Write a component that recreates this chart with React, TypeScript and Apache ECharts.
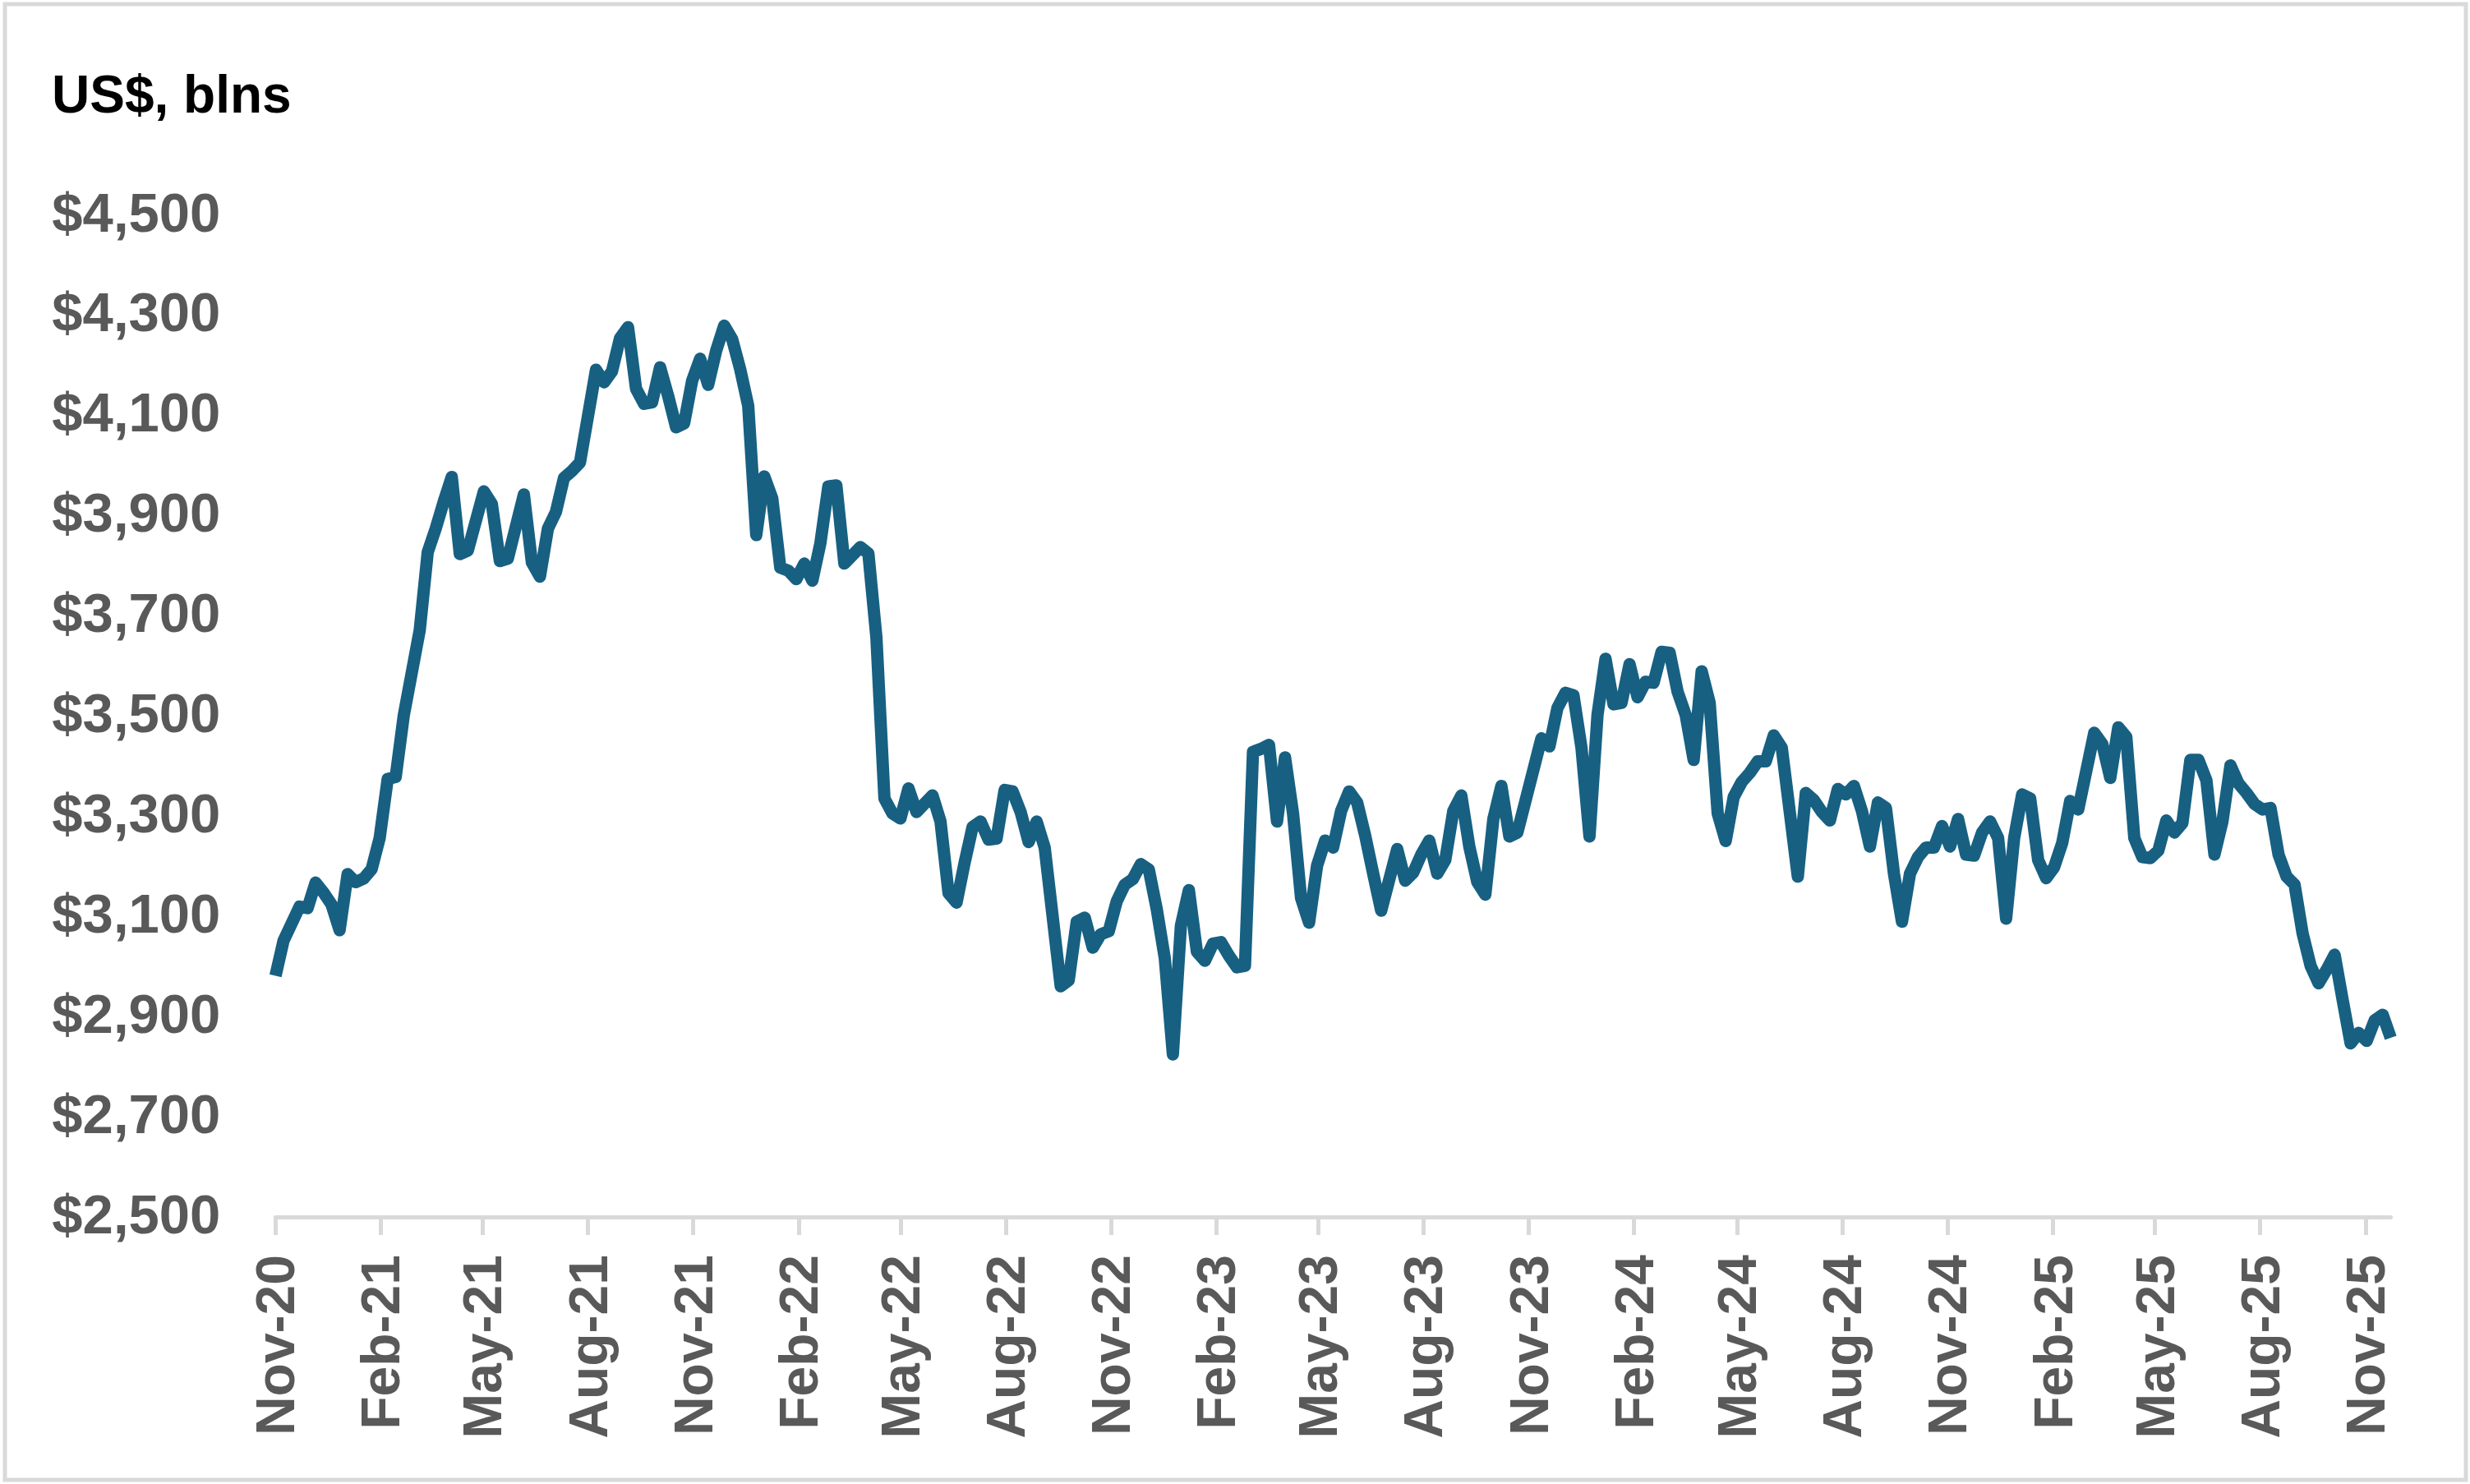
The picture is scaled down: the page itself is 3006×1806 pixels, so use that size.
import React, { useEffect, useRef } from "react";
import * as echarts from "echarts";

// Weekly observations (Wednesdays) starting 2020-11-04; index = weeks after start
const startDate = "2020-11-04";
const lastWeek = 264;

const weekIndex = [
  0, 1, 3, 4, 5, 6, 7, 8, 9, 10, 11, 12, 13, 14, 15, 16, 18, 19, 20, 21, 22, 23, 24, 26, 27, 28, 29, 31, 32, 33,
  34, 35, 36, 37, 38, 40, 41, 42, 43, 44, 45, 46, 47, 48, 49, 50, 51, 52, 53, 54, 55, 56, 57, 58, 59, 60, 61, 62,
  63, 64, 65, 66, 67, 68, 69, 70, 71, 73, 74, 75, 76, 77, 78, 79, 80, 82, 83, 84, 85, 86, 87, 88, 89, 90, 91, 92,
  93, 94, 95, 96, 98, 99, 100, 101, 102, 103, 104, 105, 106, 107, 108, 109, 110, 111, 112, 113, 114, 115, 116, 117,
  118, 119, 120, 121, 122, 123, 124, 125, 126, 127, 128, 129, 130, 131, 132, 133, 134, 135, 136, 137, 138, 140, 141,
  142, 143, 144, 145, 146, 147, 148, 149, 150, 151, 152, 153, 154, 155, 158, 159, 160, 161, 162, 163, 164, 165, 166,
  167, 168, 169, 170, 171, 172, 173, 174, 175, 176, 177, 178, 179, 180, 181, 182, 183, 184, 185, 186, 187, 188, 190,
  191, 192, 193, 194, 195, 196, 197, 198, 199, 200, 201, 202, 203, 204, 205, 206, 207, 208, 209, 210, 211, 212, 213,
  214, 215, 216, 217, 218, 219, 220, 221, 222, 223, 224, 225, 227, 228, 229, 230, 231, 232, 233, 234, 235, 236, 237,
  238, 239, 240, 241, 242, 243, 244, 245, 246, 247, 248, 249, 250, 251, 252, 253, 254, 255, 256, 257, 258, 259, 260,
  261, 262, 263, 264,
];

const reserves = [
  2975, 3045, 3113, 3110, 3161, 3141, 3117, 3066, 3178, 3162, 3169, 3188, 3250, 3368, 3372, 3494, 3665, 3821, 3868,
  3922, 3971, 3817, 3824, 3942, 3917, 3803, 3808, 3936, 3800, 3772, 3868, 3901, 3969, 3983, 4000, 4185, 4160, 4182,
  4248, 4270, 4147, 4117, 4120, 4190, 4133, 4070, 4078, 4163, 4207, 4155, 4223, 4273, 4246, 4186, 4113, 3855, 3972,
  3928, 3790, 3784, 3767, 3798, 3764, 3838, 3952, 3954, 3798, 3831, 3818, 3650, 3329, 3299, 3289, 3349, 3302, 3335,
  3283, 3140, 3121, 3200, 3272, 3283, 3247, 3249, 3346, 3343, 3302, 3242, 3283, 3231, 2954, 2966, 3083, 3091, 3031,
  3058, 3064, 3124, 3157, 3168, 3198, 3187, 3107, 3009, 2818, 3075, 3146, 3023, 3005, 3039, 3042, 3015, 2992, 2995,
  3422, 3428, 3436, 3283, 3411, 3299, 3130, 3081, 3195, 3245, 3231, 3304, 3343, 3321, 3255, 3179, 3105, 3228, 3165,
  3181, 3217, 3245, 3179, 3206, 3304, 3335, 3233, 3162, 3137, 3288, 3354, 3253, 3261, 3449, 3433, 3510, 3540, 3535,
  3430, 3253, 3496, 3608, 3517, 3520, 3597, 3531, 3562, 3560, 3622, 3620, 3542, 3496, 3406, 3583, 3520, 3299, 3244,
  3332, 3362, 3380, 3403, 3403, 3455, 3430, 3173, 3340, 3326, 3302, 3285, 3348, 3337, 3354, 3304, 3233, 3321, 3310,
  3179, 3083, 3179, 3212, 3231, 3231, 3274, 3233, 3288, 3217, 3215, 3261, 3283, 3250, 3089, 3250, 3337, 3329, 3206,
  3170, 3192, 3240, 3324, 3307, 3460, 3438, 3370, 3471, 3452, 3250, 3212, 3210, 3225, 3285, 3261, 3280, 3406, 3406,
  3365, 3217, 3283, 3395, 3359, 3340, 3318, 3307, 3310, 3217, 3173, 3157, 3060, 2995, 2960, 2987, 3017, 2927, 2840,
  2861, 2845, 2886, 2897, 2851,
];

const tickDates = [
  "2020-11-04", "2021-02-04", "2021-05-04", "2021-08-04", "2021-11-04", "2022-02-04", "2022-05-04",
  "2022-08-04", "2022-11-04", "2023-02-04", "2023-05-04", "2023-08-04", "2023-11-04", "2024-02-04",
  "2024-05-04", "2024-08-04", "2024-11-04", "2025-02-04", "2025-05-04", "2025-08-04", "2025-11-04",
];
const tickLabels = [
  "Nov-20", "Feb-21", "May-21", "Aug-21", "Nov-21", "Feb-22", "May-22", "Aug-22", "Nov-22", "Feb-23",
  "May-23", "Aug-23", "Nov-23", "Feb-24", "May-24", "Aug-24", "Nov-24", "Feb-25", "May-25", "Aug-25", "Nov-25",
];

const yMin = 2500;
const yMax = 4500;
const yStep = 200;
const titleText = "US$, blns";

const DAY = 86400000;

export default function App() {
  const ref = useRef<HTMLDivElement | null>(null);

  useEffect(() => {
    if (!ref.current) return;
    const chart = echarts.init(ref.current, undefined, { renderer: "svg" });
    const start = Date.parse(startDate);
    const data = weekIndex.map((w, i) => [start + w * 7 * DAY, reserves[i]]);
    const tickTimes = tickDates.map((d) => Date.parse(d));

    const font = '"Liberation Sans", Arial, sans-serif';

    chart.setOption({
      animation: false,
      backgroundColor: "#ffffff",
      grid: { left: 335.3, right: 96.5, top: 258, bottom: 329, containLabel: false },
      xAxis: {
        type: "value",
        min: start,
        max: start + lastWeek * 7 * DAY,
        offset: 4,
        axisLine: { show: true, lineStyle: { color: "#d9d9d9", width: 5 } },
        axisTick: { show: true, length: 22, customValues: tickTimes, lineStyle: { color: "#d9d9d9", width: 5 } },
        splitLine: { show: false },
        axisLabel: {
          show: true,
          customValues: tickTimes,
          rotate: 90,
          margin: 46,
          color: "#595959",
          fontFamily: font,
          fontWeight: "bold",
          fontSize: 66,
          hideOverlap: false,
          showMinLabel: true,
          showMaxLabel: true,
          formatter: (val: number) => {
            let best = 0;
            for (let i = 1; i < tickTimes.length; i++) {
              if (Math.abs(tickTimes[i] - val) < Math.abs(tickTimes[best] - val)) best = i;
            }
            return Math.abs(tickTimes[best] - val) < DAY ? tickLabels[best] : "";
          },
        },
      },
      yAxis: {
        type: "value",
        min: yMin,
        max: yMax,
        interval: yStep,
        axisLine: { show: false },
        axisTick: { show: false },
        splitLine: { show: false },
        axisLabel: {
          margin: 67,
          color: "#595959",
          fontFamily: font,
          fontWeight: "bold",
          fontSize: 67,
          formatter: (v: number) => "$" + v.toLocaleString("en-US"),
        },
      },
      graphic: [
        {
          type: "rect",
          shape: { x: 6, y: 5, width: 2995, height: 1796 },
          style: { fill: "none", stroke: "#d9d9d9", lineWidth: 5 },
          silent: true,
        },
        {
          type: "text",
          x: 63,
          y: 115,
          style: {
            text: titleText,
            fill: "#000000",
            fontFamily: font,
            fontWeight: "bold",
            fontSize: 64,
            verticalAlign: "middle",
            align: "left",
          },
        },
      ],
      series: [
        {
          type: "line",
          data,
          showSymbol: false,
          symbol: "none",
          lineStyle: { color: "#176082", width: 15, join: "round", cap: "butt" },
        },
      ],
    });

    return () => chart.dispose();
  }, []);

  return (
    <div
      ref={ref}
      style={{ position: "absolute", left: 0, top: 0, width: 3006, height: 1806, background: "#ffffff" }}
    />
  );
}
